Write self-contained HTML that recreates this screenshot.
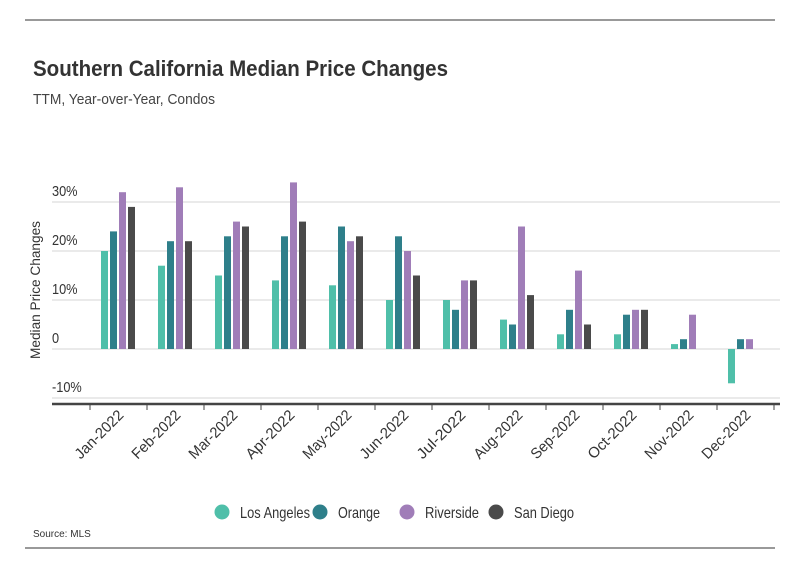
<!DOCTYPE html>
<html><head><meta charset="utf-8"><style>
body{margin:0;background:#fff;font-family:"Liberation Sans",sans-serif;}
svg{display:block}
</style></head><body>
<svg id="chart" width="800" height="575">
<line x1="25" y1="20" x2="775" y2="20" stroke="#333" stroke-width="1"/>
<text x="33" y="76" font-size="22" font-weight="bold" fill="#333" textLength="415" lengthAdjust="spacingAndGlyphs">Southern California Median Price Changes</text>
<text x="33" y="104" font-size="15" fill="#444" textLength="182" lengthAdjust="spacingAndGlyphs">TTM, Year-over-Year, Condos</text>
<g id="grid"></g><g id="bars"></g><g id="xaxis"></g>
<text transform="translate(40,290) rotate(-90)" text-anchor="middle" font-size="14" fill="#333" textLength="138" lengthAdjust="spacingAndGlyphs">Median Price Changes</text>
<g id="legend"></g>
<text x="33" y="537" font-size="10" fill="#333">Source: MLS</text>
<line x1="25" y1="548" x2="775" y2="548" stroke="#333" stroke-width="1"/>
</svg>
<script>
const categories=["Jan-2022","Feb-2022","Mar-2022","Apr-2022","May-2022","Jun-2022","Jul-2022","Aug-2022","Sep-2022","Oct-2022","Nov-2022","Dec-2022"];
const seriesNames=["Los Angeles","Orange","Riverside","San Diego"];
const losAngeles=[20,17,15,14,13,10,10,6,3,3,1,-7];
const orange=[24,22,23,23,25,23,8,5,8,7,2,2];
const riverside=[32,33,26,34,22,20,14,25,16,8,7,2];
const sanDiego=[29,22,25,26,23,15,14,11,5,8,0,0];
const yTicks=[-10,0,10,20,30];
const yTickLabels=["-10%","0","10%","20%","30%"];
const colors=["#4fbfa9","#2e7f8a","#a07db8","#4a4a4a"];
const series=[losAngeles,orange,riverside,sanDiego];
const NS="http://www.w3.org/2000/svg";
const y=v=>349-v*4.9;
const bandStart=90,band=57;
const x=i=>bandStart+i*band;
function mk(tag,attrs,parent){const e=document.createElementNS(NS,tag);for(const k in attrs)e.setAttribute(k,attrs[k]);parent.appendChild(e);return e;}
const grid=document.getElementById('grid');
yTicks.forEach((t,i)=>{
 const l=mk('line',{x1:52,x2:780,y1:y(t),y2:y(t),stroke:'#d6d6d6','stroke-width':1},grid);
 
 
 const tx=mk('text',{x:52,y:y(t)-6,'font-size':15,fill:'#333',transform:`translate(52 0) scale(0.85 1) translate(-52 0)`},grid);
 tx.textContent=yTickLabels[i];
 
 
});
const bars=document.getElementById('bars');
categories.forEach((c,i)=>{
 series.forEach((s,j)=>{
  const v=s[i]; if(v===0)return;
  const r=mk('rect',{x:x(i)+11+j*9,width:7,y:Math.min(y(v),y(0)),height:Math.abs(y(v)-y(0)),fill:colors[j]},bars);
  
  
 });
});
const xa=document.getElementById('xaxis');
const ax=mk('line',{x1:52,x2:780,y1:404,y2:404,stroke:'#444','stroke-width':2.5},xa);


for(let i=0;i<=categories.length;i++){
 const t=mk('line',{x1:x(i),x2:x(i),y1:404,y2:410,stroke:'#444','stroke-width':1},xa);
 
 
}
categories.forEach((c,i)=>{
 const cx=x(i)+band/2+6,cy=416;
 const t=mk('text',{x:cx,y:cy,'text-anchor':'end','font-size':15,fill:'#333',textLength:62,lengthAdjust:'spacingAndGlyphs',transform:`rotate(-45 ${cx} ${cy})`},xa);
 t.textContent=c;
 
 
});
const lg=document.getElementById('legend');
const lx=[222,320,407,496];
const lw=[70,42,54,60];
seriesNames.forEach((n,j)=>{
 const g=mk('g',{},lg);
 
 
 mk('circle',{cx:lx[j],cy:512,r:7.5,fill:colors[j]},g);
 const t=mk('text',{x:lx[j]+18,y:518,'font-size':16,fill:'#333',textLength:lw[j],lengthAdjust:'spacingAndGlyphs'},g);
 t.textContent=n;
});
</script>
</body></html>
